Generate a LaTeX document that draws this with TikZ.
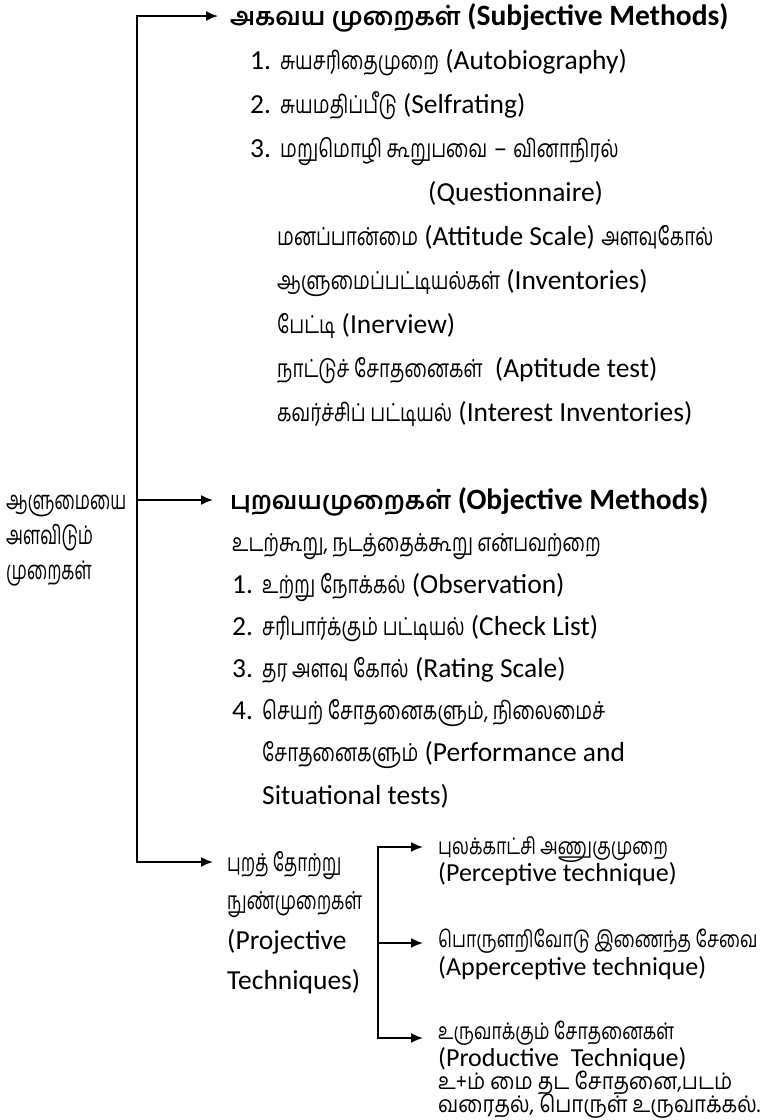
\documentclass[tikz,border=0pt]{standalone}
\usepackage{fontspec}
\setmainfont{Carlito}
\newfontfamily\tam[Script=Tamil,Scale=0.9,FakeStretch=0.76]{Hind Madurai}
\newfontfamily\tamn[Script=Tamil,Scale=0.9,FakeStretch=0.7]{Hind Madurai}
\newfontfamily\tamL[Script=Tamil,Scale=0.92,FakeStretch=0.66]{Hind Madurai}
\newfontfamily\tamh[Script=Tamil,Scale=0.84]{Hind Madurai}
\newfontfamily\tams[Script=Tamil,Scale=0.88,FakeStretch=0.77]{Hind Madurai}
\newfontfamily\tamw[Script=Tamil,Scale=0.88,FakeStretch=0.89]{Hind Madurai}
\newcommand{\T}[1]{{\tam #1}}
\newcommand{\Tnar}[1]{{\tamn #1}}
\newcommand{\Tlab}[1]{{\tamL #1}}
\newcommand{\Thead}[1]{{\tamh\bfseries #1}}
\newcommand{\Tsub}[1]{{\tams #1}}
\newcommand{\Twide}[1]{{\tamw #1}}
\newcommand{\numbox}[1]{\makebox[30pt][l]{#1}}
\usetikzlibrary{arrows.meta}
\begin{document}
\begin{tikzpicture}[x=1pt,y=-1pt,
  ln/.style={anchor=base west, inner sep=0pt, font=\fontsize{27.5}{28}\selectfont},
  lnh/.style={anchor=base west, inner sep=0pt, font=\fontsize{29.5}{30}\selectfont\bfseries},
  lnr/.style={anchor=base west, inner sep=0pt, font=\fontsize{28}{28}\selectfont},
  lns/.style={anchor=base west, inner sep=0pt, font=\fontsize{26}{26}\selectfont},
  conn/.style={line width=1.8pt, line cap=rect},
  arr/.style={line width=1.8pt, -{Latex[length=12pt,width=10pt]}}]
\useasboundingbox (0,0) rectangle (764,1120);
\fill[white] (0,0) rectangle (764,1120);

% ---- Subjective block
\node[lnh] (subj) at (230,25) {\Thead{அகவய முறைகள்} (Subjective Methods)};
\node[ln] (s1) at (250,69) {\numbox{1.}\T{சுயசரிதைமுறை} (Autobiography)};
\node[ln] (s2) at (250,113) {\numbox{2.}\T{சுயமதிப்பீடு} (Selfrating)};
\node[ln] (s3) at (250,157) {\numbox{3.}\T{மறுமொழி கூறுபவை} – \T{வினாநிரல்}};
\node[ln] (s4) at (428,201) {(Questionnaire)};
\node[ln] (s5) at (277,245) {\T{மனப்பான்மை} (Attitude Scale) \T{அளவுகோல்}};
\node[ln] (s6) at (277,289) {\T{ஆளுமைப்பட்டியல்கள்} (Inventories)};
\node[ln] (s7) at (277,333) {\T{பேட்டி}\ (Inerview)};
\node[ln] (s8) at (277,377) {\T{நாட்டுச் சோதனைகள்}\ \ (Aptitude test)};
\node[ln] (s9) at (277,421) {\T{கவர்ச்சிப் பட்டியல்} (Interest Inventories)};

% ---- Root label
\node[lnr] (r1) at (6,509) {\Tlab{ஆளுமையை}};
\node[lnr] (r2) at (6,544) {\Tlab{அளவிடும்}};
\node[lnr] (r3) at (6,579) {\Tlab{முறைகள்}};

% ---- Objective block
\node[lnh] (obj) at (230,509) {\Thead{புறவயமுறைகள்} (Objective Methods)};
\node[ln] (o1) at (232,551) {\T{உடற்கூறு, நடத்தைக்கூறு என்பவற்றை}};
\node[ln] (o2) at (232,593) {\numbox{1.}\T{உற்று நோக்கல்} (Observation)};
\node[ln] (o3) at (232,635) {\numbox{2.}\T{சரிபார்க்கும் பட்டியல்} (Check List)};
\node[ln] (o4) at (232,677) {\numbox{3.}\T{தர அளவு கோல்} (Rating Scale)};
\node[ln] (o5) at (232,719) {\numbox{4.}\T{செயற் சோதனைகளும், நிலைமைச்}};
\node[ln] (o6) at (262,761) {\T{சோதனைகளும்} (Performance and};
\node[ln] (o7) at (262,804) {Situational tests)};

% ---- Projective block
\node[ln] (p1) at (227,871) {\Tnar{புறத் தோற்று}};
\node[ln] (p2) at (227,909) {\Tnar{நுண்முறைகள்}};
\node[ln] (p3) at (227,949) {(Projective};
\node[ln] (p4) at (227,989) {Techniques)};

% ---- Projective sub-items
\node[lns] (q1) at (438,854) {\Tsub{புலக்காட்சி அணுகுமுறை}};
\node[lns] (q1e) at (438,881) {(Perceptive technique)};
\node[lns] (q2) at (438,947) {\Tsub{பொருளறிவோடு இணைந்த சேவை}};
\node[lns] (q2e) at (438,975) {(Apperceptive technique)};
\node[lns] (q3) at (438,1039) {\Tsub{உருவாக்கும் சோதனைகள்}};
\node[lns] (q3e) at (438,1066) {(Productive\ \ Technique)};
\node[lns] (q3a) at (438,1089) {\Twide{உ+ம் மை தட சோதனை,படம்}};
\node[lns] (q3b) at (438,1112) {\Twide{வரைதல், பொருள் உருவாக்கல்.}};

% ---- connectors
\coordinate (top) at (137,16);
\coordinate (mid) at (137,500);
\coordinate (bot) at (137,862);
\draw[conn] (top) -- (bot);
\draw[arr] (top) -- ([xshift=-12pt]top -| subj.west);
\draw[arr] (mid) -- ([xshift=-17pt]mid -| obj.west);
\draw[arr] (bot) -- ([xshift=-14pt]bot -| p1.west);

\coordinate (ta) at (378,847);
\coordinate (tb) at (378,943);
\coordinate (tc) at (378,1038);
\draw[conn] (ta) -- (tc);
\draw[arr] (ta) -- ([xshift=-15pt]ta -| q1.west);
\draw[arr] (tb) -- ([xshift=-15pt]tb -| q2.west);
\draw[arr] (tc) -- ([xshift=-15pt]tc -| q3.west);
\end{tikzpicture}
\end{document}
